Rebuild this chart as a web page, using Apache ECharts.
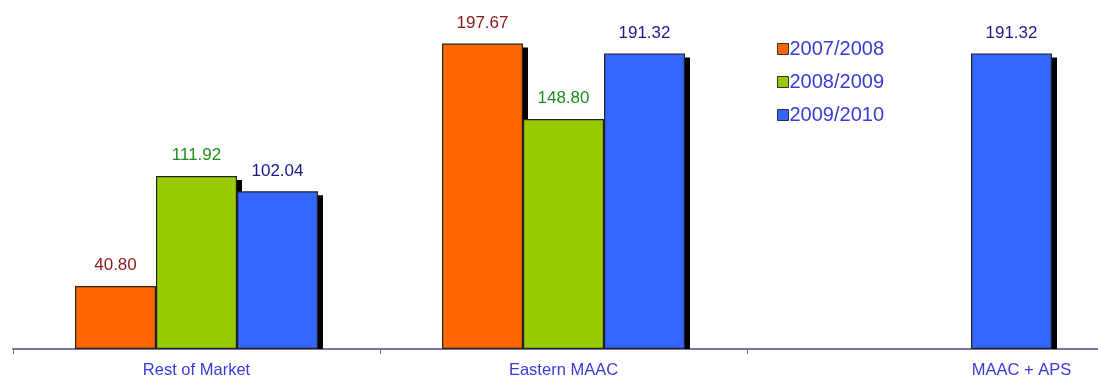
<!DOCTYPE html>
<html>
<head>
<meta charset="utf-8">
<script src="https://cdn.jsdelivr.net/npm/echarts@6/dist/echarts.min.js"></script>
<style>
  html, body { margin: 0; padding: 0; background: #ffffff; overflow: hidden; }
  #chart { width: 1114px; height: 381px; }
</style>
</head>
<body>
<div id="chart"></div>
<script>
// Market regions and price values per delivery year
const categories = ['Rest of Market', 'Eastern MAAC', 'MAAC + APS'];
const seriesNames = ['2007/2008', '2008/2009', '2009/2010'];
const values2007 = [40.80, 197.67, null];
const values2008 = [111.92, 148.80, null];
const values2009 = [102.04, 191.32, 191.32];

const fills = ['#ff6600', '#99cc00', '#3366ff'];
const labelColors = ['#8b1a1a', '#1f8f1f', '#1a1a8a'];
const seriesValues = [values2007, values2008, values2009];

const BAR_W = 81;

const chart = echarts.init(document.getElementById('chart'));

// Black drop shadows drawn behind each bar, positioned from the axis scales
const shadowData = [];
seriesValues.forEach((vals, s) => {
  vals.forEach((v, c) => { if (v != null) shadowData.push([c, v, s]); });
});

const shadowSeries = {
  type: 'custom',
  silent: true,
  z: 1,
  data: shadowData,
  renderItem: (params, api) => {
    const cat = api.value(0);
    const top = api.coord([cat, api.value(1)]);
    const base = api.coord([cat, 0]);
    const s = api.value(2);
    const left = top[0] - (BAR_W * 3) / 2 + s * BAR_W;
    return {
      type: 'rect',
      shape: { x: left + 5, y: top[1] + 4, width: BAR_W, height: base[1] - top[1] - 4 },
      style: { fill: '#000000' }
    };
  }
};

const barSeries = seriesNames.map((name, i) => ({
  name: name,
  type: 'bar',
  z: 2,
  data: seriesValues[i],
  barWidth: BAR_W,
  barGap: '0%',
  itemStyle: {
    color: fills[i],
    borderColor: '#222222',
    borderWidth: 1.2
  },
  label: {
    show: true,
    position: 'top',
    distance: 12,
    color: labelColors[i],
    fontSize: 17,
    formatter: p => p.value == null ? '' : p.value.toFixed(2)
  }
}));

chart.setOption({
  animation: false,
  textStyle: { fontFamily: 'Liberation Sans, Arial, sans-serif' },
  legend: {
    orient: 'vertical',
    left: 772,
    top: 34,
    itemWidth: 11,
    itemHeight: 11,
    itemGap: 13,
    icon: 'rect',
    data: seriesNames.map((n, i) => ({
      name: n,
      itemStyle: { color: fills[i], borderColor: '#333333', borderWidth: 1 }
    })),
    textStyle: { color: '#3a3ad8', fontSize: 20, padding: [0, 0, 0, -4] }
  },
  grid: { left: 13, right: 0, top: 40, bottom: 32, containLabel: false },
  xAxis: {
    type: 'category',
    data: categories.map((c, i) => i === 2
      ? { value: c, textStyle: { padding: [0, 0, 0, 182] } }
      : c),
    axisLine: { lineStyle: { color: '#7474a8', width: 2 } },
    axisTick: { show: true, length: 5, lineStyle: { color: '#7474a8', width: 1 } },
    axisLabel: { color: '#3a3ad8', fontSize: 16.5, margin: 13 }
  },
  yAxis: {
    type: 'value',
    min: 0,
    max: 200,
    show: false,
    splitLine: { show: false }
  },
  series: [shadowSeries].concat(barSeries)
});
</script>
</body>
</html>
